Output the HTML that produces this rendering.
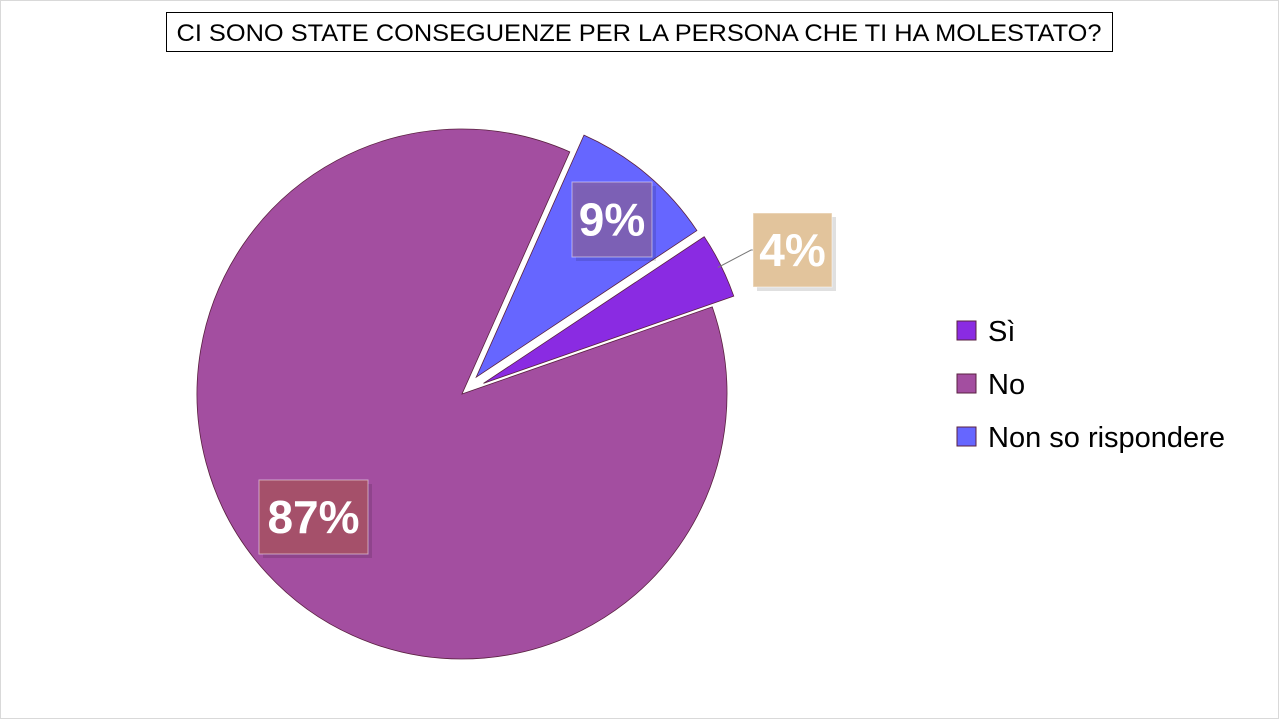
<!DOCTYPE html>
<html><head><meta charset="utf-8"><style>
html,body{margin:0;padding:0;background:#fff}
svg{display:block;font-family:"Liberation Sans",sans-serif}
</style></head><body>
<svg id="chart" width="1280" height="720" viewBox="0 0 1280 720">
<rect x="0.5" y="0.5" width="1278" height="718" fill="#fff" stroke="#d9d9d9"/>
<rect x="166.5" y="12.5" width="946" height="39" fill="#fff" stroke="#000"/>
<text x="639" y="41" text-anchor="middle" font-size="24" textLength="925" lengthAdjust="spacingAndGlyphs" fill="#000">CI SONO STATE CONSEGUENZE PER LA PERSONA CHE TI HA MOLESTATO?</text>
<g id="slices"></g>
<g id="labels"></g>
<g id="legend"></g>
</svg>
<script>
const categories = ["Non so rispondere", "Sì", "No"];
const values = [9, 4, 87];
const labelText = ["9%", "4%", "87%"];
const legendOrder = ["Sì", "No", "Non so rispondere"];

const colors = {"Sì":"#8A2BE2","No":"#A34EA0","Non so rispondere":"#6666FF"};
const labelFill = {"Sì":"#E2C49C","No":"#A5506A","Non so rispondere":"rgba(128,96,176,0.9)"};
const explode = {"Sì":24,"No":0,"Non so rispondere":22};
const NS="http://www.w3.org/2000/svg";
const cx=462, cy=394, r=265, startDeg=24;
const total=values.reduce((a,b)=>a+b,0);
const sg=document.getElementById('slices'), lg=document.getElementById('labels'), leg=document.getElementById('legend');
function pt(x,y,deg,rad){const a=deg*Math.PI/180;return [x+rad*Math.sin(a), y-rad*Math.cos(a)];}
let ang=startDeg;
const boxes={"Non so rispondere":[572,182,80,75,false],"Sì":[753,213,79,74,true],"No":[259,480,109,74,false]};
categories.forEach((c,i)=>{
  const span=values[i]/total*360, a0=ang, a1=ang+span, mid=(a0+a1)/2;
  const [ox,oy]=pt(cx,cy,mid,explode[c]);
  const [x0,y0]=pt(ox,oy,a0,r), [x1,y1]=pt(ox,oy,a1,r);
  const p=document.createElementNS(NS,'path');
  p.setAttribute('d',`M${ox},${oy}L${x0},${y0}A${r},${r} 0 ${span>180?1:0} 1 ${x1},${y1}Z`);
  p.setAttribute('fill',colors[c]);p.setAttribute('stroke','#5a2040');p.setAttribute('stroke-width','0.8');
  
  
  sg.appendChild(p);
  const b=boxes[c];
  if(b[4]){const [lx,ly]=pt(ox,oy,mid,r);const l=document.createElementNS(NS,'polyline');
    l.setAttribute('points',`${lx-3},${ly+2} ${b[0]-2},${b[1]+37} ${b[0]},${b[1]+37}`);l.setAttribute('fill','none');l.setAttribute('stroke','#777');
    
    
    lg.appendChild(l);}
  const sh=document.createElementNS(NS,'rect');
  sh.setAttribute('x',b[0]+4);sh.setAttribute('y',b[1]+4);sh.setAttribute('width',b[2]);sh.setAttribute('height',b[3]);sh.setAttribute('fill','rgba(0,0,0,0.12)');
  
  
  lg.appendChild(sh);
  const rc=document.createElementNS(NS,'rect');
  rc.setAttribute('x',b[0]);rc.setAttribute('y',b[1]);rc.setAttribute('width',b[2]);rc.setAttribute('height',b[3]);rc.setAttribute('fill',labelFill[c]);rc.setAttribute('stroke','rgba(255,255,255,0.5)');
  
  
  lg.appendChild(rc);
  const t=document.createElementNS(NS,'text');
  t.setAttribute('x',b[0]+b[2]/2);t.setAttribute('y',b[1]+b[3]/2+16);t.setAttribute('text-anchor','middle');
  t.setAttribute('font-size','46');t.setAttribute('font-weight','bold');t.setAttribute('fill','#fff');
  t.textContent=labelText[i];
  
  
  lg.appendChild(t);
  ang=a1;
});
legendOrder.forEach((c,i)=>{
  const y=321+i*53;
  const s=document.createElementNS(NS,'rect');
  s.setAttribute('x',957);s.setAttribute('y',y);s.setAttribute('width',19);s.setAttribute('height',19);s.setAttribute('fill',colors[c]);s.setAttribute('stroke','#5a2040');
  
  
  leg.appendChild(s);
  const t=document.createElementNS(NS,'text');
  t.setAttribute('x',988);t.setAttribute('y',y+20);t.setAttribute('font-size','29');t.setAttribute('fill','#000');
  t.textContent=c;
  
  
  leg.appendChild(t);
});
</script>
</body></html>
